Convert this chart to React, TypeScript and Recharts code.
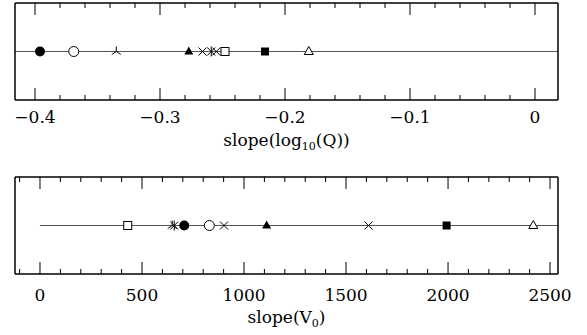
import { ScatterChart, Scatter, XAxis, YAxis, ReferenceLine } from 'recharts';

const SYMBOLS = ['filledCircle', 'openCircle', 'triStar', 'filledTriangle', 'cross', 'asterisk', 'cross', 'openSquare', 'filledSquare', 'openTriangle'];
const LOGQ_SLOPES = [-0.396, -0.369, -0.335, -0.277, -0.266, -0.259, -0.255, -0.248, -0.216, -0.181];
const V0_SLOPES = [707, 830, 648, 1111, 902, 658, 1610, 430, 1993, 2418];

const LOGQ_MAJOR = [-0.4, -0.3, -0.2, -0.1, 0];
const LOGQ_MINOR = [-0.4, -0.38, -0.36, -0.34, -0.32, -0.3, -0.28, -0.26, -0.24, -0.22, -0.2, -0.18, -0.16, -0.14, -0.12, -0.1, -0.08, -0.06, -0.04, -0.02, 0];
const V0_MAJOR = [0, 500, 1000, 1500, 2000, 2500];
const V0_MINOR = [-100, 0, 100, 200, 300, 400, 500, 600, 700, 800, 900, 1000, 1100, 1200, 1300, 1400, 1500, 1600, 1700, 1800, 1900, 2000, 2100, 2200, 2300, 2400, 2500];

const LOGQ_DOMAIN = [-0.416, 0.0184];
const V0_DOMAIN = [-122.5, 2539];

const FONT = 'DejaVu Serif';
const INK = '#000';

const logqData = LOGQ_SLOPES.map((x, i) => ({ x, y: 1, sym: SYMBOLS[i] }));
const v0Data = V0_SLOPES.map((x, i) => ({ x, y: 1, sym: SYMBOLS[i] }));

const fmt = (v: number) => (v < 0 ? '\u2212' + Math.abs(v) : String(v));

const Marker = (props: any) => {
  const { cx, cy, payload } = props;
  const s = payload.sym;
  const sw = 1;
  switch (s) {
    case 'filledCircle':
      return <circle cx={cx} cy={cy} r={5} fill={INK} />;
    case 'openCircle':
      return <circle cx={cx} cy={cy} r={5} fill="#fff" stroke={INK} strokeWidth={sw} />;
    case 'filledSquare':
      return <rect x={cx - 4} y={cy - 4} width={8} height={8} fill={INK} />;
    case 'openSquare':
      return <rect x={cx - 4} y={cy - 4} width={8} height={8} fill="#fff" stroke={INK} strokeWidth={sw} />;
    case 'filledTriangle':
      return <path d={`M${cx},${cy - 5}L${cx + 4.5},${cy + 3}L${cx - 4.5},${cy + 3}Z`} fill={INK} />;
    case 'openTriangle':
      return <path d={`M${cx},${cy - 5}L${cx + 4.5},${cy + 3}L${cx - 4.5},${cy + 3}Z`} fill="#fff" stroke={INK} strokeWidth={sw} />;
    case 'cross':
      return <path d={`M${cx - 4},${cy - 4}L${cx + 4},${cy + 4}M${cx - 4},${cy + 4}L${cx + 4},${cy - 4}`} stroke={INK} strokeWidth={sw} />;
    case 'asterisk':
      return <path d={`M${cx - 4},${cy - 4}L${cx + 4},${cy + 4}M${cx - 4},${cy + 4}L${cx + 4},${cy - 4}M${cx},${cy - 5}L${cx},${cy + 5}`} stroke={INK} strokeWidth={sw} />;
    case 'triStar':
      return <path d={`M${cx},${cy - 5}L${cx},${cy}L${cx - 4.5},${cy + 3}M${cx},${cy}L${cx + 4.5},${cy + 3}`} stroke={INK} strokeWidth={sw} fill="none" />;
    default:
      return <circle cx={cx} cy={cy} r={4} fill={INK} />;
  }
};

// one tick renderer draws both the long (major) and short (minor) marks
const makeTick = (major: number[], dir: number, labelDy: number | null) => (props: any) => {
  const { x, y, payload } = props;
  const v = payload.value;
  const isMajor = major.includes(v);
  const len = isMajor ? 12 : 5;
  return (
    <g>
      <line x1={x} y1={y} x2={x} y2={y + dir * len} stroke={INK} strokeWidth={1} />
      {labelDy != null && isMajor && (
        <text x={x} y={y + labelDy} textAnchor="middle" fontFamily={FONT} fontSize={17} fill={INK}>
          {fmt(v)}
        </text>
      )}
    </g>
  );
};

const AxisTitle = ({ viewBox, children, dy }: any) => {
  const x = viewBox.x + viewBox.width / 2;
  const y = viewBox.y + dy;
  return (
    <text x={x} y={y} textAnchor="middle" fontFamily={FONT} fontSize={17} fill={INK}>
      {children}
    </text>
  );
};

const Panel = ({ data, domain, major, minor, height, margin, labelDy, title, segment }: any) => (
  <ScatterChart width={587} height={height} margin={margin}>
    <XAxis xAxisId="b" orientation="bottom" type="number" dataKey="x" domain={domain} ticks={minor} interval={0}
      height={1} tickSize={0} tickMargin={0} tick={makeTick(major, -1, labelDy)} tickLine={false}
      axisLine={{ stroke: INK, strokeWidth: 1.5 }} allowDataOverflow
      label={{ content: (p: any) => <AxisTitle viewBox={p.viewBox} dy={title.dy}>{title.node}</AxisTitle> }} />
    <XAxis xAxisId="t" orientation="top" type="number" dataKey="x" domain={domain} ticks={minor} interval={0}
      height={1} tickSize={0} tickMargin={0} tick={makeTick(major, 1, null)} tickLine={false}
      axisLine={{ stroke: INK, strokeWidth: 1.5 }} allowDataOverflow />
    <YAxis yAxisId="l" type="number" dataKey="y" domain={[0, 2]} width={1} tick={false} tickLine={false}
      axisLine={{ stroke: INK, strokeWidth: 1.5 }} />
    <YAxis yAxisId="r" orientation="right" type="number" dataKey="y" domain={[0, 2]} width={1} tick={false} tickLine={false}
      axisLine={{ stroke: INK, strokeWidth: 1.5 }} />
    <ReferenceLine xAxisId="b" yAxisId="l" segment={segment} stroke="#555" strokeWidth={1} />
    <Scatter xAxisId="b" yAxisId="l" data={data} shape={Marker} isAnimationActive={false} />
  </ScatterChart>
);

export default function App() {
  return (
    <div style={{ position: 'absolute', left: 0, top: 0, width: 587, height: 335, background: '#fff' }}>
      <Panel
        data={logqData}
        domain={LOGQ_DOMAIN}
        major={LOGQ_MAJOR}
        minor={LOGQ_MINOR}
        height={160}
        margin={{ top: 2, right: 28, bottom: 59, left: 14 }}
        labelDy={23}
        segment={[{ x: LOGQ_DOMAIN[0], y: 1 }, { x: LOGQ_DOMAIN[1], y: 1 }]}
        title={{
          dy: 46,
          node: [
            <tspan key="a">slope(log</tspan>,
            <tspan key="b" dy={4} fontSize={11}>10</tspan>,
            <tspan key="c" dy={-4}>(Q))</tspan>,
          ],
        }}
      />
      <Panel
        data={v0Data}
        domain={V0_DOMAIN}
        major={V0_MAJOR}
        minor={V0_MINOR}
        height={175}
        margin={{ top: 16, right: 28, bottom: 60, left: 14 }}
        labelDy={27}
        segment={[{ x: 0, y: 1 }, { x: V0_DOMAIN[1], y: 1 }]}
        title={{
          dy: 49,
          node: [
            <tspan key="a">slope(V</tspan>,
            <tspan key="b" dy={4} fontSize={11}>0</tspan>,
            <tspan key="c" dy={-4}>)</tspan>,
          ],
        }}
      />
    </div>
  );
}
